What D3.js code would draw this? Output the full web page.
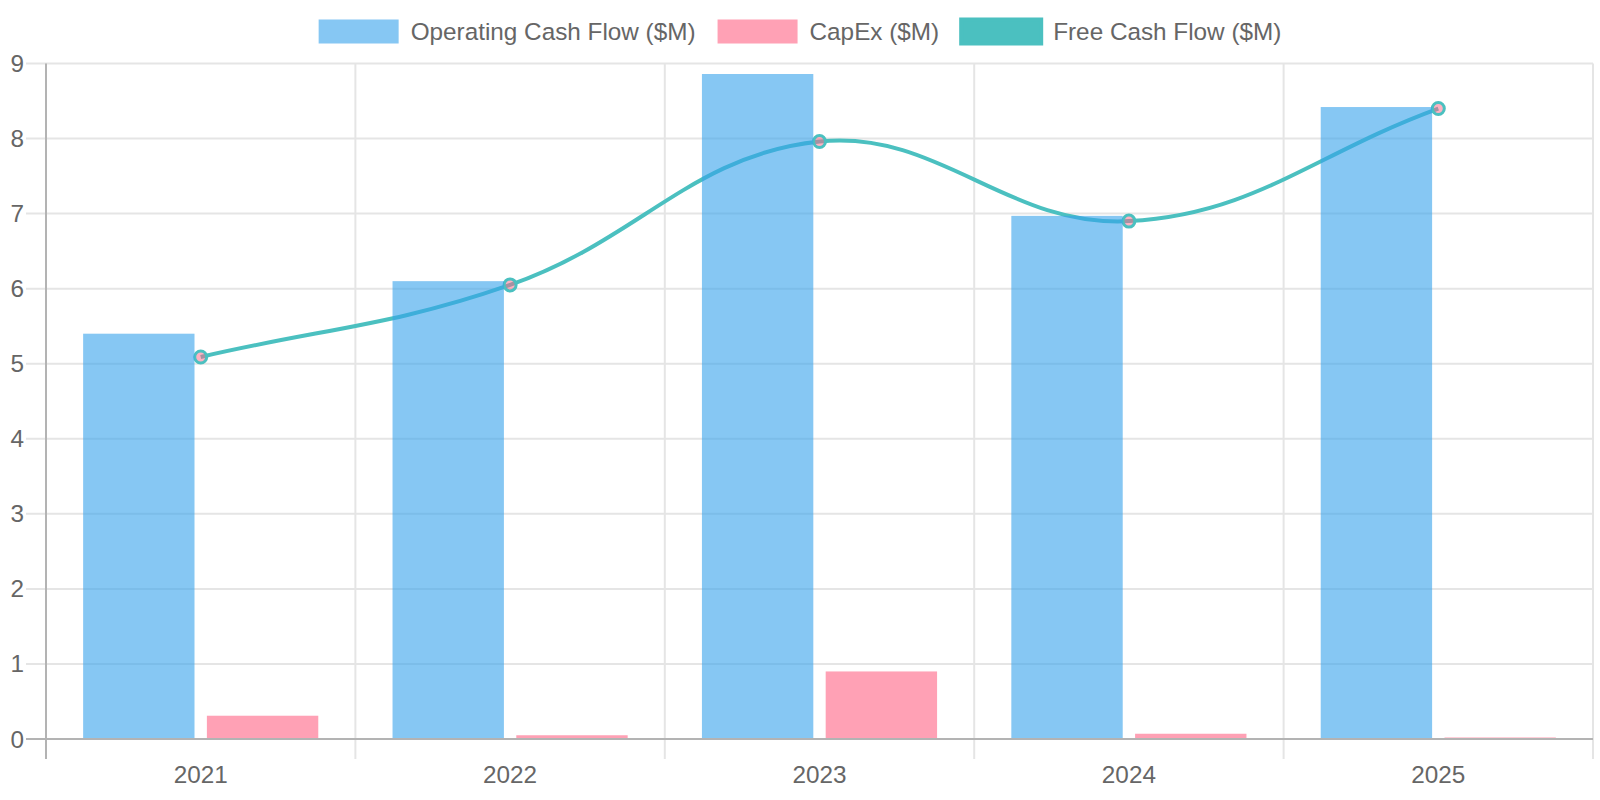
<!DOCTYPE html>
<html>
<head>
<meta charset="utf-8">
<script src="https://cdn.jsdelivr.net/npm/d3@7"></script>
<style>
  html, body { margin: 0; padding: 0; background: #fff; }
  svg { display: block; font-family: "Liberation Sans", Arial, Helvetica, sans-serif; }
</style>
</head>
<body>
<svg id="chart" width="1600" height="800"></svg>
<script>
// ---- data ----
const years = ["2021", "2022", "2023", "2024", "2025"];
const operatingCashFlow = [5.40, 6.10, 8.86, 6.97, 8.42];
const capEx = [0.31, 0.05, 0.90, 0.07, 0.02];
const freeCashFlow = [5.09, 6.05, 7.96, 6.90, 8.40];
const yTicks = [0, 1, 2, 3, 4, 5, 6, 7, 8, 9];
const seriesNames = ["Operating Cash Flow ($M)", "CapEx ($M)", "Free Cash Flow ($M)"];

// ---- layout ----
const W = 1600, H = 800;
const plot = { left: 46, right: 1593, top: 63.5, bottom: 739 };
const colors = {
  ocf: "rgba(54,162,235,0.6)",
  cap: "rgba(255,99,132,0.6)",
  fcfLine: "rgb(75,192,192)",
  fcfFill: "rgba(75,192,192,1)",
  pointFill: "rgba(255,99,132,0.5)",
  text: "#666",
  grid: "#e5e5e5",
  axis: "#b3b3b3"
};
const fontSize = 24.3;

const svg = d3.select("#chart");

const x = d3.scaleBand().domain(years).range([plot.left, plot.right]).paddingInner(0).paddingOuter(0);
const sub = d3.scaleBand().domain(["ocf", "cap"]).range([0, x.bandwidth() * 0.8]).paddingInner(0.1).paddingOuter(0.05);
const subOffset = x.bandwidth() * 0.1;
const y = d3.scaleLinear().domain([0, 9]).range([plot.bottom, plot.top]);

// ---- grid ----
const grid = svg.append("g");
grid.selectAll("line.h").data(yTicks.filter(d => d !== 0)).join("line")
  .attr("x1", plot.left - 20).attr("x2", plot.right)
  .attr("y1", d => y(d)).attr("y2", d => y(d))
  .attr("stroke", colors.grid).attr("stroke-width", 2);
grid.append("line")
  .attr("x1", plot.left - 20).attr("x2", plot.left)
  .attr("y1", y(0)).attr("y2", y(0))
  .attr("stroke", colors.grid).attr("stroke-width", 2);
const boundaries = years.map(d => x(d)).concat([plot.right]);
grid.selectAll("line.v").data(boundaries.slice(1)).join("line")
  .attr("x1", d => d).attr("x2", d => d)
  .attr("y1", plot.top).attr("y2", plot.bottom + 20)
  .attr("stroke", colors.grid).attr("stroke-width", 2);

// ---- free cash flow line (drawn beneath bars) ----
const pts = years.map((yr, i) => ({ x: x(yr) + x.bandwidth() / 2, y: y(freeCashFlow[i]) }));
function splineCurve(prev, cur, next, t) {
  const d01 = Math.hypot(cur.x - prev.x, cur.y - prev.y);
  const d12 = Math.hypot(next.x - cur.x, next.y - cur.y);
  let s01 = d01 / (d01 + d12), s12 = d12 / (d01 + d12);
  if (isNaN(s01)) s01 = 0;
  if (isNaN(s12)) s12 = 0;
  const fa = t * s01, fb = t * s12;
  return {
    cp1: { x: cur.x - fa * (next.x - prev.x), y: cur.y - fa * (next.y - prev.y) },
    cp2: { x: cur.x + fb * (next.x - prev.x), y: cur.y + fb * (next.y - prev.y) }
  };
}
const ctrl = pts.map((p, i) => splineCurve(pts[i - 1] || p, p, pts[i + 1] || p, 0.4));
const path = d3.path();
path.moveTo(pts[0].x, pts[0].y);
for (let i = 1; i < pts.length; i++) {
  path.bezierCurveTo(ctrl[i - 1].cp2.x, ctrl[i - 1].cp2.y, ctrl[i].cp1.x, ctrl[i].cp1.y, pts[i].x, pts[i].y);
}
svg.append("path").attr("d", path.toString())
  .attr("fill", "none").attr("stroke", colors.fcfLine).attr("stroke-width", 4);
svg.append("g").selectAll("circle").data(pts).join("circle")
  .attr("cx", d => d.x).attr("cy", d => d.y).attr("r", 6)
  .attr("fill", colors.pointFill).attr("stroke", colors.fcfLine).attr("stroke-width", 3);

// ---- bars ----
const bars = svg.append("g");
bars.selectAll("rect.ocf").data(years).join("rect")
  .attr("x", d => x(d) + subOffset + sub("ocf"))
  .attr("width", sub.bandwidth())
  .attr("y", (d, i) => y(operatingCashFlow[i]))
  .attr("height", (d, i) => y(0) - y(operatingCashFlow[i]))
  .attr("fill", colors.ocf);
bars.selectAll("rect.cap").data(years).join("rect")
  .attr("x", d => x(d) + subOffset + sub("cap"))
  .attr("width", sub.bandwidth())
  .attr("y", (d, i) => y(capEx[i]))
  .attr("height", (d, i) => y(0) - y(capEx[i]))
  .attr("fill", colors.cap);

// ---- axes lines ----
svg.append("line").attr("x1", plot.left).attr("x2", plot.left)
  .attr("y1", plot.top).attr("y2", plot.bottom + 20)
  .attr("stroke", colors.axis).attr("stroke-width", 2);
svg.append("line").attr("x1", plot.left - 20).attr("x2", plot.right)
  .attr("y1", y(0)).attr("y2", y(0))
  .attr("stroke", colors.axis).attr("stroke-width", 2);

// ---- axis labels ----
svg.append("g").selectAll("text").data(yTicks).join("text")
  .attr("x", 24).attr("y", d => y(d))
  .attr("text-anchor", "end").attr("dominant-baseline", "central")
  .attr("font-size", fontSize).attr("fill", colors.text)
  .text(d => d);
svg.append("g").selectAll("text").data(years).join("text")
  .attr("x", d => x(d) + x.bandwidth() / 2).attr("y", 774)
  .attr("text-anchor", "middle").attr("dominant-baseline", "central")
  .attr("font-size", fontSize).attr("fill", colors.text)
  .text(d => d);

// ---- legend ----
const legendItems = [
  { name: seriesNames[0], fill: colors.ocf, stroke: null },
  { name: seriesNames[1], fill: colors.cap, stroke: null },
  { name: seriesNames[2], fill: colors.fcfFill, stroke: colors.fcfLine }
];
const legend = svg.append("g");
const boxW = 80, boxH = 24, gapText = 12, itemGap = 22, legendY = 31.5;
const items = legend.selectAll("g").data(legendItems).join("g");
items.append("rect")
  .attr("x", 0).attr("y", legendY - boxH / 2).attr("width", boxW).attr("height", boxH)
  .attr("fill", d => d.fill)
  .attr("stroke", d => d.stroke || "none").attr("stroke-width", 4);
items.append("text")
  .attr("x", boxW + gapText).attr("y", legendY)
  .attr("dominant-baseline", "central")
  .attr("font-size", fontSize).attr("fill", colors.text)
  .text(d => d.name);
const widths = [];
items.each(function () { widths.push(boxW + gapText + this.querySelector("text").getComputedTextLength()); });
const total = d3.sum(widths) + itemGap * (widths.length - 1);
let cx = W / 2 - total / 2;
items.attr("transform", (d, i) => { const tx = cx; cx += widths[i] + itemGap; return `translate(${tx},0)`; });
</script>
</body>
</html>
